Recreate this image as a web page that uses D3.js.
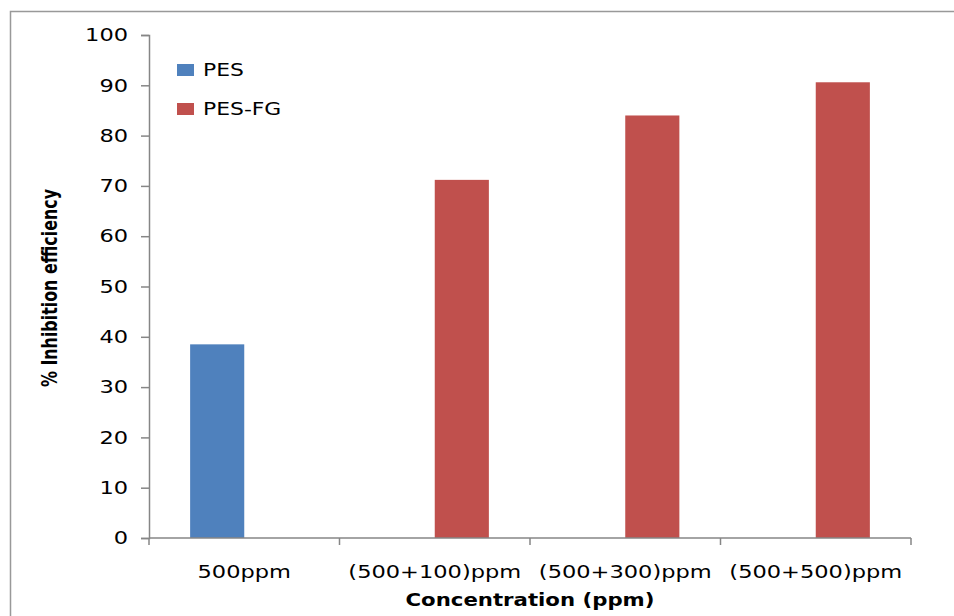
<!DOCTYPE html>
<html>
<head>
<meta charset="utf-8">
<script src="https://cdn.jsdelivr.net/npm/d3@7"></script>
<style>
  body { margin: 0; background: #fff; overflow: hidden; }
  svg { display: block; }
</style>
</head>
<body>
<div id="chart"></div>
<script>
// chart values
const categories = ['500ppm', '(500+100)ppm', '(500+300)ppm', '(500+500)ppm'];
const seriesNames = ['PES', 'PES-FG'];
const pesValues = [38.5, null, null, null];
const pesFgValues = [null, 71.2, 84.0, 90.6];
const yTicks = [0, 10, 20, 30, 40, 50, 60, 70, 80, 90, 100];
const seriesColors = ['#4F81BD', '#C0504D'];

const width = 954, height = 616;
const plot = { left: 149, right: 911, top: 35, bottom: 538 };
const axisColor = '#868686';
const squash = 1.25; // source picture is stretched sideways

// widen text to look like the reference
function stretch(sel, k) {
    sel.each(function () {
        let w = this.getComputedTextLength();
        d3.select(this)
            .attr('textLength', w * k)
            .attr('lengthAdjust', 'spacingAndGlyphs');
    });
}

let svg = d3.select('#chart').append('svg')
    .attr('width', width)
    .attr('height', height);

svg.append('rect')
    .attr('width', width).attr('height', height)
    .attr('fill', '#fff');

// outer frame: only the top and left edges are in the picture
svg.append('path')
    .attr('d', 'M10.5,' + height + 'V11.5H' + width)
    .attr('fill', 'none')
    .attr('stroke', '#999')
    .attr('stroke-width', 1.5);

let y = d3.scaleLinear()
    .domain([0, 100])
    .range([plot.bottom, plot.top]);

let x = d3.scaleBand()
    .domain(categories)
    .range([plot.left, plot.right]);

let xInner = d3.scaleBand()
    .domain(seriesNames)
    .range([0, x.bandwidth()])
    .paddingInner(0)
    .paddingOuter(0.76);

// bars
let rows = [];
categories.forEach(function (c, i) {
    rows.push({ cat: c, series: 'PES', value: pesValues[i] });
    rows.push({ cat: c, series: 'PES-FG', value: pesFgValues[i] });
});

svg.append('g').selectAll('rect')
    .data(rows.filter(function (d) { return d.value != null; }))
    .enter().append('rect')
    .attr('x', function (d) { return x(d.cat) + xInner(d.series); })
    .attr('y', function (d) { return y(d.value); })
    .attr('width', xInner.bandwidth())
    .attr('height', function (d) { return y(0) - y(d.value); })
    .attr('fill', function (d) { return seriesColors[seriesNames.indexOf(d.series)]; });

// y axis
let yAxis = d3.axisLeft(y)
    .tickValues(yTicks)
    .tickSize(8)
    .tickPadding(13)
    .tickFormat(function (d) { return d.toString(); });

let yG = svg.append('g')
    .attr('transform', 'translate(' + plot.left + ',0)')
    .call(yAxis);
yG.select('.domain').attr('stroke', axisColor).attr('stroke-width', 1.5);
yG.selectAll('.tick line').attr('stroke', axisColor).attr('stroke-width', 1.5);
yG.selectAll('.tick text')
    .attr('fill', '#000')
    .style('font-family', 'DejaVu Sans')
    .style('font-size', '18px')
    .call(stretch, squash);

// x axis, ticks sit on the band edges
let xAxis = d3.axisBottom(x).tickSize(0).tickPadding(27);
let xG = svg.append('g')
    .attr('transform', 'translate(0,' + plot.bottom + ')')
    .call(xAxis);
xG.select('.domain').remove();
xG.append('line')
    .attr('x1', plot.left).attr('x2', plot.right)
    .attr('stroke', axisColor).attr('stroke-width', 1.5);
let edges = categories.map(function (c) { return x(c); }).concat([plot.right]);
xG.selectAll('.edge')
    .data(edges)
    .enter().append('line')
    .attr('class', 'edge')
    .attr('x1', function (d) { return d; })
    .attr('x2', function (d) { return d; })
    .attr('y1', 0).attr('y2', 7)
    .attr('stroke', axisColor).attr('stroke-width', 1.5);
xG.selectAll('.tick text')
    .attr('fill', '#000')
    .style('font-family', 'DejaVu Sans')
    .style('font-size', '18px')
    .call(stretch, squash);

// axis titles
svg.append('text')
    .attr('x', (plot.left + plot.right) / 2)
    .attr('y', 606)
    .attr('text-anchor', 'middle')
    .style('font-family', 'DejaVu Sans')
    .style('font-weight', 'bold')
    .style('font-size', '17px')
    .text('Concentration (ppm)')
    .call(stretch, 1.25);

svg.append('text')
    .attr('transform', 'translate(57,288) scale(1.3,1) rotate(-90)')
    .attr('text-anchor', 'middle')
    .style('font-family', 'DejaVu Sans')
    .style('font-weight', 'bold')
    .style('font-size', '16.5px')
    .text('% Inhibition efficiency')
    .attr('textLength', 198)
    .attr('lengthAdjust', 'spacingAndGlyphs');

// legend
let legend = svg.append('g')
    .selectAll('g')
    .data(seriesNames)
    .enter().append('g')
    .attr('transform', function (d, i) { return 'translate(177,' + (64 + i * 39) + ')'; });

legend.append('rect')
    .attr('width', 17).attr('height', 12)
    .attr('fill', function (d, i) { return seriesColors[i]; });

legend.append('text')
    .attr('x', 26).attr('y', 12)
    .style('font-family', 'DejaVu Sans')
    .style('font-size', '17.5px')
    .text(function (d) { return d; })
    .call(stretch, squash);
</script>
</body>
</html>
